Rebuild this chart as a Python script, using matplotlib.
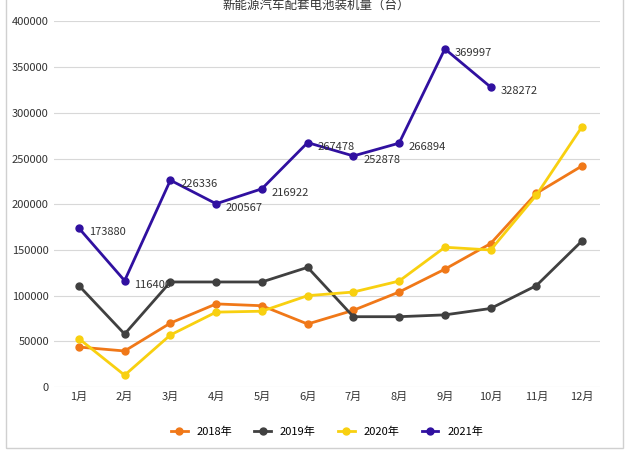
import matplotlib
matplotlib.use("Agg")
import matplotlib.pyplot as plt
from matplotlib.patches import Rectangle

plt.rcParams["font.family"] = ["Noto Sans CJK SC"]

months = ["1月","2月","3月","4月","5月","6月","7月","8月","9月","10月","11月","12月"]
s2018 = [43800,39500,70000,91000,89000,69000,84000,104000,129000,157000,212000,242000]
s2019 = [111000,58000,115000,115000,115000,131000,77000,77000,79000,86000,111000,160000]
s2020 = [53000,13000,57000,82000,83000,100000,104000,116000,153000,150000,210000,285000]
s2021 = [173880,116400,226336,200567,216922,267478,252878,266894,369997,328272]
names = ["2018年","2019年","2020年","2021年"]
colors = ["#f07818","#404040","#f8d010","#3010a0"]
title = "新能源汽车配套电池装机量（台）"

fig = plt.figure(figsize=(6.32,4.57), dpi=100)
fig.patches.append(Rectangle((0.01,0.02),0.975,0.99,transform=fig.transFigure,fill=False,ec="#d0d0d0",lw=1))
ax = fig.add_axes([0.085,0.153,0.865,0.80])
x = list(range(12))
for s,c,n in zip([s2018,s2019,s2020,s2021],colors,names):
    ax.plot(x[:len(s)], s, color=c, lw=2, marker="o", ms=5, label=n)
for i,v in enumerate(s2021):
    ax.annotate(str(v),(i,v),xytext=(7,-3),textcoords="offset points",fontsize=8,color="#333333",va="center")
ax.set_ylim(0,400000)
ax.set_xlim(-0.55,11.4)
ax.set_yticks(range(0,400001,50000))
ax.set_xticks(x)
ax.set_xticklabels(months)
ax.tick_params(labelsize=8, length=0, colors="#333333")
ax.grid(axis="y", color="#d8d8d8", lw=0.8)
for sp in ax.spines.values(): sp.set_visible(False)
ax.set_axisbelow(True)
ax.legend(loc="upper center", bbox_to_anchor=(0.5,-0.08), ncol=4, frameon=False, fontsize=8, handlelength=1.5)
fig.text(0.5,0.988,title,ha="center",va="center",fontsize=9,color="#333333")
fig.savefig("out.png", dpi=100)
